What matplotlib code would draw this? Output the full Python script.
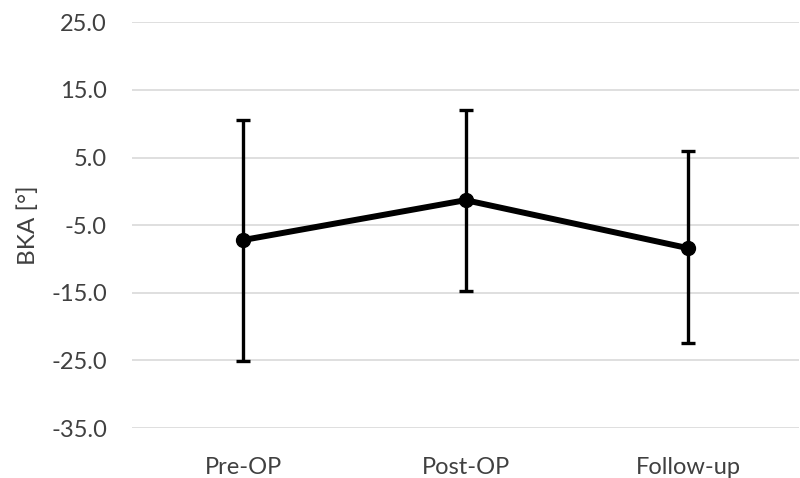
import matplotlib
matplotlib.use('Agg')
from matplotlib import pyplot as plt
import numpy as np

# values
categories = ['Pre-OP', 'Post-OP', 'Follow-up']
means = [-7.2, -1.3, -8.4]
upper = [10.5, 12.1, 6.0]
lower = [-25.1, -14.8, -22.5]
y_ticks = [-35, -25, -15, -5, 5, 15, 25]

plt.rcParams['font.family'] = ['Lato', 'DejaVu Sans']

if __name__ == '__main__':
    fig = plt.figure(figsize=(8, 4.78), dpi=100)
    ax = fig.add_axes([0.165, 0.1046, 0.834, 0.8487])
    x = np.arange(len(categories))
    m = np.array(means)
    err = [m - np.array(lower), np.array(upper) - m]
    ax.errorbar(x, m, yerr=err, color='black', linewidth=4.3, marker='o', markersize=10,
                ecolor='black', elinewidth=2.4, capsize=5, capthick=2.4, zorder=3)
    ax.set_xlim(-0.5, len(categories) - 0.5)
    ax.set_ylim(-35, 25)
    ax.set_yticks(y_ticks)
    ax.set_yticklabels(['%.1f' % v for v in y_ticks])
    ax.set_xticks(x)
    ax.set_xticklabels(categories)
    ax.grid(axis='y', color='#d9d9d9', linewidth=1.2)
    ax.set_axisbelow(True)
    for s in ax.spines.values():
        s.set_visible(False)
    ax.tick_params(length=0, labelsize=17, colors='#404040')
    ax.tick_params(axis='y', pad=18)
    ax.tick_params(axis='x', pad=21)
    ax.set_ylabel('BKA [°]', fontsize=17.5, color='#404040', labelpad=9)
    fig.savefig('out.png', dpi=100)
